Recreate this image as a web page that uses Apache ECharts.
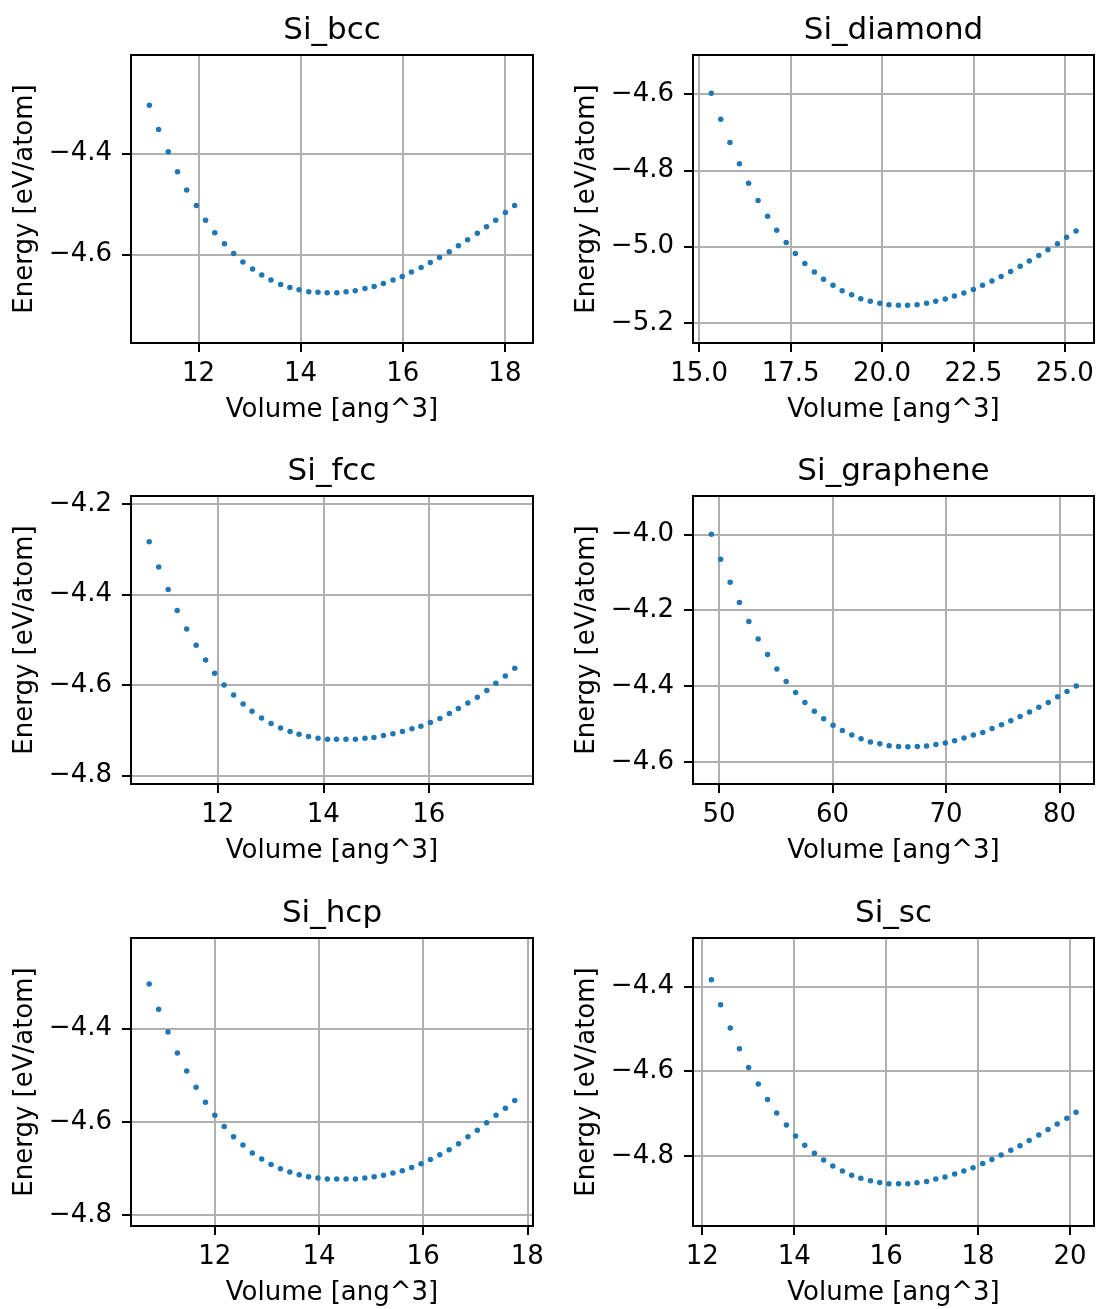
<!DOCTYPE html>
<html>
<head>
<meta charset="utf-8">
<script src="https://cdn.jsdelivr.net/npm/echarts@6/dist/echarts.min.js"></script>
<style>
html,body{margin:0;padding:0;background:#fff;}
#chart{width:1099px;height:1309px;}
</style>
</head>
<body>
<div id="chart"></div>
<script>
// ---------- data ----------
const titles = ['Si_bcc', 'Si_diamond', 'Si_fcc', 'Si_graphene', 'Si_hcp', 'Si_sc'];
const xLabel = 'Volume [ang^3]';
const yLabel = 'Energy [eV/atom]';

const volBcc = [11.04, 11.22, 11.41, 11.59, 11.77, 11.96, 12.14, 12.32, 12.51, 12.69, 12.87, 13.06, 13.24, 13.42, 13.61, 13.79, 13.97, 14.16, 14.34, 14.52, 14.71, 14.89, 15.07, 15.26, 15.44, 15.62, 15.81, 15.99, 16.17, 16.36, 16.54, 16.72, 16.91, 17.09, 17.27, 17.46, 17.64, 17.82, 18.01, 18.19];
const eBcc = [-4.304, -4.352, -4.396, -4.436, -4.472, -4.503, -4.532, -4.557, -4.579, -4.598, -4.615, -4.629, -4.641, -4.651, -4.660, -4.666, -4.670, -4.674, -4.675, -4.676, -4.676, -4.674, -4.672, -4.668, -4.664, -4.658, -4.651, -4.644, -4.635, -4.626, -4.616, -4.606, -4.595, -4.583, -4.571, -4.558, -4.545, -4.532, -4.517, -4.503];

const volDiamond = [15.33, 15.59, 15.84, 16.10, 16.35, 16.61, 16.87, 17.12, 17.38, 17.63, 17.89, 18.15, 18.40, 18.66, 18.91, 19.17, 19.42, 19.68, 19.94, 20.19, 20.45, 20.70, 20.96, 21.22, 21.47, 21.73, 21.98, 22.24, 22.50, 22.75, 23.01, 23.26, 23.52, 23.78, 24.03, 24.29, 24.54, 24.80, 25.05, 25.31];
const eDiamond = [-4.598, -4.666, -4.727, -4.783, -4.834, -4.879, -4.920, -4.957, -4.989, -5.018, -5.044, -5.066, -5.085, -5.101, -5.115, -5.126, -5.136, -5.143, -5.148, -5.152, -5.153, -5.153, -5.152, -5.148, -5.143, -5.137, -5.129, -5.121, -5.112, -5.101, -5.090, -5.078, -5.065, -5.051, -5.037, -5.023, -5.008, -4.992, -4.975, -4.959];

const volFcc = [10.70, 10.88, 11.06, 11.23, 11.41, 11.59, 11.77, 11.94, 12.12, 12.30, 12.48, 12.65, 12.83, 13.01, 13.19, 13.37, 13.54, 13.72, 13.90, 14.08, 14.25, 14.43, 14.61, 14.79, 14.96, 15.14, 15.32, 15.50, 15.68, 15.85, 16.03, 16.21, 16.39, 16.56, 16.74, 16.92, 17.10, 17.27, 17.45, 17.63];
const eFcc = [-4.283, -4.339, -4.389, -4.435, -4.476, -4.512, -4.545, -4.574, -4.600, -4.622, -4.642, -4.658, -4.673, -4.685, -4.695, -4.703, -4.709, -4.714, -4.718, -4.720, -4.720, -4.720, -4.720, -4.718, -4.716, -4.712, -4.708, -4.703, -4.697, -4.691, -4.683, -4.674, -4.663, -4.652, -4.640, -4.627, -4.612, -4.596, -4.580, -4.563];

const volGraphene = [49.32, 50.14, 50.97, 51.79, 52.62, 53.44, 54.27, 55.09, 55.91, 56.74, 57.56, 58.39, 59.21, 60.04, 60.86, 61.69, 62.51, 63.33, 64.16, 64.98, 65.81, 66.63, 67.46, 68.28, 69.10, 69.93, 70.75, 71.58, 72.40, 73.23, 74.05, 74.88, 75.70, 76.52, 77.35, 78.17, 79.00, 79.82, 80.65, 81.47];
const eGraphene = [-4.000, -4.066, -4.126, -4.180, -4.230, -4.276, -4.317, -4.355, -4.388, -4.417, -4.443, -4.466, -4.486, -4.503, -4.517, -4.529, -4.539, -4.547, -4.552, -4.557, -4.559, -4.560, -4.559, -4.558, -4.554, -4.550, -4.544, -4.537, -4.529, -4.522, -4.512, -4.502, -4.491, -4.480, -4.468, -4.456, -4.443, -4.428, -4.414, -4.400];

const volHcp = [10.74, 10.92, 11.10, 11.28, 11.46, 11.64, 11.82, 12.00, 12.18, 12.36, 12.54, 12.72, 12.90, 13.08, 13.26, 13.44, 13.62, 13.80, 13.98, 14.16, 14.34, 14.52, 14.70, 14.88, 15.06, 15.24, 15.42, 15.60, 15.78, 15.96, 16.14, 16.32, 16.50, 16.68, 16.86, 17.04, 17.22, 17.40, 17.58, 17.76];
const eHcp = [-4.304, -4.358, -4.407, -4.452, -4.491, -4.526, -4.558, -4.586, -4.610, -4.632, -4.650, -4.667, -4.680, -4.692, -4.701, -4.708, -4.714, -4.718, -4.721, -4.723, -4.723, -4.723, -4.723, -4.721, -4.718, -4.715, -4.710, -4.705, -4.698, -4.690, -4.681, -4.671, -4.660, -4.647, -4.632, -4.618, -4.602, -4.586, -4.571, -4.554];

const volSc = [12.20, 12.40, 12.61, 12.81, 13.01, 13.22, 13.42, 13.62, 13.83, 14.03, 14.23, 14.44, 14.64, 14.84, 15.05, 15.25, 15.45, 15.66, 15.86, 16.06, 16.27, 16.47, 16.67, 16.88, 17.08, 17.28, 17.49, 17.69, 17.89, 18.10, 18.30, 18.50, 18.71, 18.91, 19.11, 19.32, 19.52, 19.72, 19.93, 20.13];
const eSc = [-4.384, -4.443, -4.498, -4.547, -4.591, -4.630, -4.667, -4.699, -4.727, -4.753, -4.775, -4.794, -4.810, -4.824, -4.836, -4.846, -4.853, -4.859, -4.863, -4.866, -4.866, -4.866, -4.864, -4.861, -4.855, -4.850, -4.843, -4.836, -4.828, -4.818, -4.809, -4.798, -4.787, -4.776, -4.764, -4.751, -4.738, -4.725, -4.711, -4.697];

// tick values
const xTicksBcc = [12, 14, 16, 18];
const yTicksBcc = [-4.4, -4.6];
const xTicksDiamond = [15, 17.5, 20, 22.5, 25];
const yTicksDiamond = [-4.6, -4.8, -5.0, -5.2];
const xTicksFcc = [12, 14, 16];
const yTicksFcc = [-4.2, -4.4, -4.6, -4.8];
const xTicksGraphene = [50, 60, 70, 80];
const yTicksGraphene = [-4.0, -4.2, -4.4, -4.6];
const xTicksHcp = [12, 14, 16, 18];
const yTicksHcp = [-4.4, -4.6, -4.8];
const xTicksSc = [12, 14, 16, 18, 20];
const yTicksSc = [-4.4, -4.6, -4.8];

// axis limits
const xLimBcc = [10.68, 18.55], yLimBcc = [-4.776, -4.204];
const xLimDiamond = [14.83, 25.80], yLimDiamond = [-5.252, -4.498];
const xLimFcc = [10.355, 17.975], yLimFcc = [-4.819, -4.182];
const xLimGraphene = [47.70, 83.03], yLimGraphene = [-4.658, -3.899];
const xLimHcp = [10.39, 18.11], yLimHcp = [-4.824, -4.205];
const xLimSc = [11.80, 20.52], yLimSc = [-4.966, -4.285];

// ---------- build ----------
const panels = [
  {vol: volBcc, e: eBcc, xt: xTicksBcc, yt: yTicksBcc, xl: xLimBcc, yl: yLimBcc, xdec: 0},
  {vol: volDiamond, e: eDiamond, xt: xTicksDiamond, yt: yTicksDiamond, xl: xLimDiamond, yl: yLimDiamond, xdec: 1},
  {vol: volFcc, e: eFcc, xt: xTicksFcc, yt: yTicksFcc, xl: xLimFcc, yl: yLimFcc, xdec: 0},
  {vol: volGraphene, e: eGraphene, xt: xTicksGraphene, yt: yTicksGraphene, xl: xLimGraphene, yl: yLimGraphene, xdec: 0},
  {vol: volHcp, e: eHcp, xt: xTicksHcp, yt: yTicksHcp, xl: xLimHcp, yl: yLimHcp, xdec: 0},
  {vol: volSc, e: eSc, xt: xTicksSc, yt: yTicksSc, xl: xLimSc, yl: yLimSc, xdec: 0}
];

const FONT = 'DejaVu Sans';
const colLeft = [131, 693];
const colWidth = [402, 401];
const rowTop = [55, 496, 938];
const plotH = 288;

function fmt(v, dec) {
  const s = Math.abs(v).toFixed(dec);
  return (v < -1e-9 ? '\u2212' : '') + s;
}

const grid = [], xAxis = [], yAxis = [], series = [], title = [];
panels.forEach((p, i) => {
  const c = i % 2, r = Math.floor(i / 2);
  grid.push({
    left: colLeft[c], top: rowTop[r], width: colWidth[c], height: plotH,
    show: true, borderColor: '#000', borderWidth: 2, backgroundColor: 'transparent', z: 5
  });
  title.push({
    text: titles[i], left: colLeft[c] + colWidth[c] / 2, top: rowTop[r] - 40,
    textAlign: 'center', padding: 0,
    textStyle: {fontFamily: FONT, fontSize: 31, fontWeight: 'normal', color: '#000'}
  });
  xAxis.push({
    type: 'value', gridIndex: i, min: p.xl[0], max: p.xl[1],
    name: xLabel, nameLocation: 'middle', nameGap: 54,
    nameTextStyle: {fontFamily: FONT, fontSize: 26, color: '#000'},
    axisLine: {show: true, onZero: false, lineStyle: {color: '#000', width: 2}},
    axisTick: {show: true, length: 9, inside: false, customValues: p.xt, lineStyle: {color: '#000', width: 2}},
    axisLabel: {show: true, margin: 18, customValues: p.xt, fontFamily: FONT, fontSize: 26, color: '#000',
      formatter: v => fmt(v, p.xdec), showMinLabel: true, showMaxLabel: true, hideOverlap: false},
    splitLine: {show: true, lineStyle: {color: '#b0b0b0', width: 2}}
  });
  yAxis.push({
    type: 'value', gridIndex: i, min: p.yl[0], max: p.yl[1],
    name: yLabel, nameLocation: 'middle', nameGap: 93, nameRotate: 90,
    nameTextStyle: {fontFamily: FONT, fontSize: 26, color: '#000'},
    axisLine: {show: true, onZero: false, lineStyle: {color: '#000', width: 2}},
    axisTick: {show: true, length: 9, inside: false, customValues: p.yt, lineStyle: {color: '#000', width: 2}},
    axisLabel: {show: true, margin: 19, customValues: p.yt, fontFamily: FONT, fontSize: 26, color: '#000',
      padding: [5, 0, 0, 0],
      formatter: v => fmt(v, 1), showMinLabel: true, showMaxLabel: true, hideOverlap: false},
    splitLine: {show: true, lineStyle: {color: '#b0b0b0', width: 2}}
  });
  series.push({
    type: 'scatter', xAxisIndex: i, yAxisIndex: i,
    data: p.vol.map((v, k) => [v, p.e[k]]),
    symbol: 'circle', symbolSize: 5.5, itemStyle: {color: '#1f77b4', opacity: 1},
    silent: true, animation: false, z: 3
  });
});

const chart = echarts.init(document.getElementById('chart'), null, {renderer: 'canvas'});
chart.setOption({
  animation: false,
  backgroundColor: '#fff',
  textStyle: {fontFamily: FONT},
  title, grid, xAxis, yAxis, series
});
</script>
</body>
</html>
